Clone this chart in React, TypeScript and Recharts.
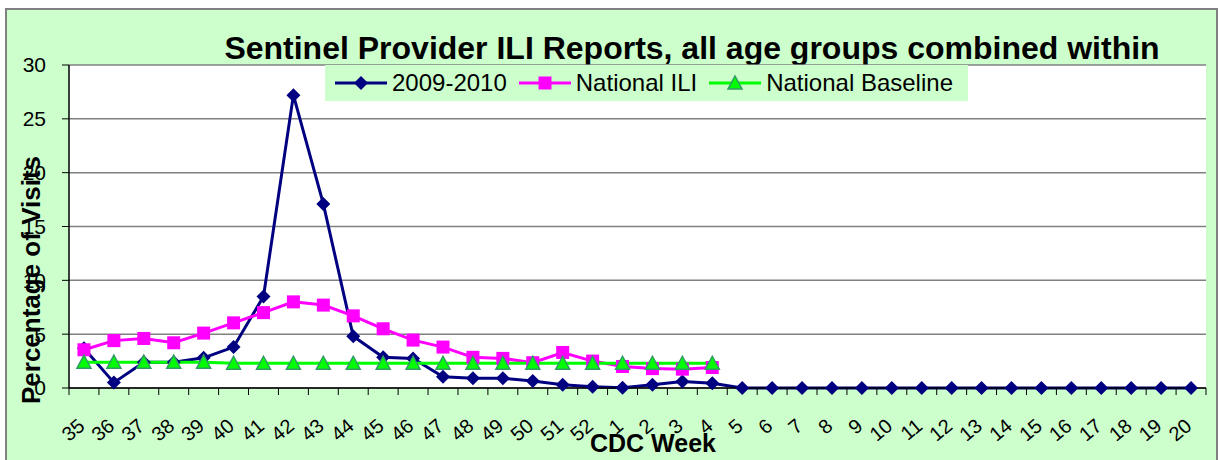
import { CartesianGrid, Line, LineChart, XAxis, YAxis } from "recharts"

const FONT = "'Liberation Sans', Arial, sans-serif"

const weeks = [
  "35", "36", "37", "38", "39", "40", "41", "42", "43", "44", "45", "46", "47",
  "48", "49", "50", "51", "52", "1", "2", "3", "4", "5", "6", "7", "8", "9",
  "10", "11", "12", "13", "14", "15", "16", "17", "18", "19", "20",
]

const season = [
  3.7, 0.5, 2.4, 2.4, 2.8, 3.8, 8.5, 27.2, 17.1, 4.8, 2.85, 2.75, 1.05,
  0.9, 0.9, 0.65, 0.3, 0.12, 0.03, 0.3, 0.6, 0.45, 0, 0, 0, 0, 0,
  0, 0, 0, 0, 0, 0, 0, 0, 0, 0, 0,
]

const nationalIli = [
  3.55, 4.4, 4.6, 4.2, 5.1, 6.05, 7.0, 8.0, 7.7, 6.7, 5.5, 4.45, 3.8,
  2.85, 2.75, 2.35, 3.3, 2.5, 2.0, 1.8, 1.75, 1.9, null, null, null, null, null,
  null, null, null, null, null, null, null, null, null, null, null,
]

const baseline = [
  2.4, 2.4, 2.4, 2.4, 2.4, 2.3, 2.3, 2.3, 2.3, 2.3, 2.3, 2.3, 2.3,
  2.3, 2.3, 2.3, 2.3, 2.3, 2.3, 2.3, 2.3, 2.3, null, null, null, null, null,
  null, null, null, null, null, null, null, null, null, null, null,
]

const yTicks = [0, 5, 10, 15, 20, 25, 30]

const data = weeks.map((week, i) => ({
  week,
  season: season[i],
  ili: nationalIli[i],
  baseline: baseline[i],
}))

const NAVY = "#000080"
const MAGENTA = "#FF00FF"
const GREEN = "#00FF00"
const TRI_EDGE = "#339966"

function Diamond({ cx, cy }: { cx: number; cy: number }) {
  return <path d={`M${cx},${cy - 7}L${cx + 7},${cy}L${cx},${cy + 7}L${cx - 7},${cy}Z`} fill={NAVY} />
}
function Square({ cx, cy }: { cx: number; cy: number }) {
  return <rect x={cx - 6.5} y={cy - 6.5} width={13} height={13} fill={MAGENTA} />
}
function Triangle({ cx, cy }: { cx: number; cy: number }) {
  return (
    <path
      d={`M${cx},${cy - 7}L${cx + 7},${cy + 6}L${cx - 7},${cy + 6}Z`}
      fill={GREEN}
      stroke={TRI_EDGE}
      strokeWidth={1.5}
    />
  )
}

const dotOf = (Shape: any) => (props: any) => {
  const { cx, cy, index, value } = props
  if (cx == null || cy == null || value == null) return <g key={`n-${index}`} />
  return (
    <g key={`d-${index}`}>
      <Shape cx={cx} cy={cy} />
    </g>
  )
}

// rotated week label + tick marks on the band edges (excel style)
const XTick = ({ x, y, payload, index }: any) => {
  const half = payload.offset ?? 0
  const tx = x + 2
  const ty = y + 40
  return (
    <g>
      <line x1={x - half} y1={y} x2={x - half} y2={y + 7} stroke="#000" />
      {index === weeks.length - 1 && <line x1={x + half} y1={y} x2={x + half} y2={y + 7} stroke="#000" />}
      <text
        x={tx}
        y={ty}
        transform={`rotate(-40, ${tx}, ${ty})`}
        textAnchor="end"
        fontSize={20}
        fontFamily={FONT}
        fill="#000"
      >
        {payload.value}
      </text>
    </g>
  )
}

const legendItems = [
  { name: "2009-2010", color: NAVY, Shape: Diamond },
  { name: "National ILI", color: MAGENTA, Shape: Square },
  { name: "National Baseline", color: GREEN, Shape: Triangle },
]

export default function App() {
  return (
    <div style={{ position: "absolute", left: 0, top: 0, width: 1218, height: 460, background: "#fff", overflow: "hidden" }}>
      <div
        style={{
          position: "absolute",
          left: 5,
          top: 8,
          width: 1209,
          height: 460,
          background: "#CCFFCC",
          borderLeft: "2px solid #808080",
          borderTop: "2px solid #808080",
          borderRight: "2px solid #808080",
        }}
      />
      <svg width={1218} height={460} style={{ position: "absolute", left: 0, top: 0 }}>
        <text x={692} y={59} textAnchor="middle" fontSize={32} fontWeight="bold" fontFamily={FONT} fill="#000">
          Sentinel Provider ILI Reports, all age groups combined within
        </text>
      </svg>
      <div style={{ position: "absolute", left: 0, top: 0 }}>
        <LineChart width={1218} height={460} data={data} margin={{ top: 65, right: 12, left: 0, bottom: 0 }}>
          <CartesianGrid vertical={false} stroke="#808080" strokeWidth={1.5} fill="#fff" fillOpacity={1} />
          <XAxis
            dataKey="week"
            scale="band"
            interval={0}
            height={72}
            axisLine={{ stroke: "#000", strokeWidth: 1.5 }}
            tickLine={false}
            tickSize={0}
            tickMargin={0}
            tick={<XTick />}
            label={{
              value: "CDC Week",
              content: () => (
                <text x={653} y={452} textAnchor="middle" fontSize={25} fontWeight="bold" fontFamily={FONT} fill="#000">
                  CDC Week
                </text>
              ),
            }}
          />
          <YAxis
            domain={[0, 30]}
            ticks={yTicks}
            width={69}
            tickSize={7}
            tickMargin={16}
            axisLine={{ stroke: "#000", strokeWidth: 1.5 }}
            tickLine={{ stroke: "#000" }}
            tick={{ fontSize: 21, fontFamily: FONT, fill: "#000" }}
            label={{
              value: "Percentage of Visits",
              content: () => (
                <text
                  x={31}
                  y={280}
                  transform="rotate(-90, 31, 280)"
                  textAnchor="middle"
                  dominantBaseline="central"
                  fontSize={26}
                  fontWeight="bold"
                  fontFamily={FONT}
                  fill="#000"
                >
                  Percentage of Visits
                </text>
              ),
            }}
          />
          <YAxis
            yAxisId="right"
            orientation="right"
            domain={[0, 30]}
            width={0}
            tick={false}
            tickLine={false}
            axisLine={{ stroke: "#808080", strokeWidth: 2 }}
          />
          <Line dataKey="season" stroke={NAVY} strokeWidth={3} dot={dotOf(Diamond)} activeDot={false} isAnimationActive={false} />
          <Line dataKey="ili" stroke={MAGENTA} strokeWidth={3} dot={dotOf(Square)} activeDot={false} isAnimationActive={false} />
          <Line dataKey="baseline" stroke={GREEN} strokeWidth={3} dot={dotOf(Triangle)} activeDot={false} isAnimationActive={false} />
        </LineChart>
      </div>
      <div
        style={{
          position: "absolute",
          left: 325,
          top: 65,
          width: 643,
          height: 36,
          background: "#CCFFCC",
          display: "flex",
          alignItems: "center",
          paddingLeft: 10,
          boxSizing: "border-box",
          fontFamily: FONT,
          fontSize: 24,
          color: "#000",
          whiteSpace: "nowrap",
        }}
      >
        {legendItems.map(({ name, color, Shape }, i) => (
          <div key={name} style={{ display: "flex", alignItems: "center", marginLeft: i === 0 ? 0 : 12 }}>
            <svg width={52} height={20} style={{ marginRight: 5 }}>
              <line x1={0} y1={10} x2={52} y2={10} stroke={color} strokeWidth={3} />
              <Shape cx={26} cy={10} />
            </svg>
            <span>{name}</span>
          </div>
        ))}
      </div>
    </div>
  )
}
